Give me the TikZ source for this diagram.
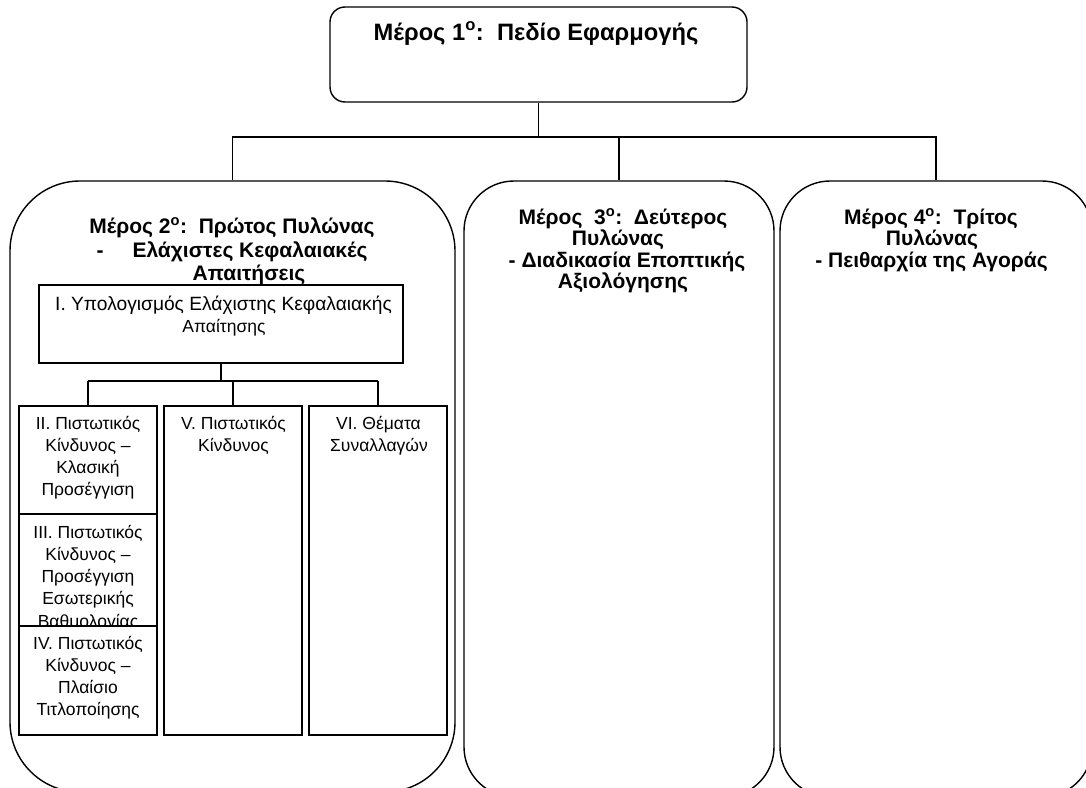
\documentclass[tikz,border=0pt]{standalone}
\usepackage{fontspec}
\setmainfont{Liberation Sans}
\tikzset{
  bigbox/.style={draw, line width=1.4pt, rounded corners=#1, inner sep=0pt, fill=white},
  subbox/.style={draw, line width=1.7pt, inner sep=0pt, fill=white},
  conn/.style={line width=1.5pt},
  thickconn/.style={line width=2.6pt},
  ttl/.style={font=\bfseries\fontsize{21}{23}\selectfont, anchor=base, inner sep=0pt},
  bigttl/.style={font=\bfseries\fontsize{23.7}{26}\selectfont, anchor=base, inner sep=0pt},
  txt/.style={font=\fontsize{17.5}{20}\selectfont, anchor=base, inner sep=0pt},
  bigtxt/.style={font=\fontsize{19.2}{21}\selectfont, anchor=base, inner sep=0pt},
}
\newcommand{\sups}[1]{\textsuperscript{#1}}
\begin{document}
\begin{tikzpicture}[x=1pt,y=-1pt]
\useasboundingbox (0,0) rectangle (1086,787);
\clip (0,0) rectangle (1086,787);
\fill[white] (0,0) rectangle (1086,787);

% main boxes
\node[bigbox=15pt, minimum width=417pt, minimum height=95pt] (p1) at (538.5,54.5) {};
\node[bigbox=70pt, minimum width=445pt, minimum height=611pt] (p2) at (232.5,486.5) {};
\node[bigbox=50pt, minimum width=310pt, minimum height=616pt] (p3) at (619,489) {};
\node[bigbox=50pt, minimum width=312pt, minimum height=616pt] (p4) at (936,489) {};

% top connectors
\coordinate (bus) at (0,137);
\draw[conn] (p1.south) -- (p1.south |- bus);
\draw[conn] (p2.north) |- (p4.north |- bus) -- (p4.north);
\draw[conn] (p3.north) -- (p3.north |- bus);

% texts of main boxes
\node[bigttl] (t1) at (536,40) {Μέρος 1\sups{ο}:\ \ Πεδίο Εφαρμογής};

\node[ttl] (t2a) at (232,233) {Μέρος 2\sups{ο}:\ \ Πρώτος Πυλώνας};
\node[ttl] (t2d) at (100,257) {-};
\node[ttl] (t2b) at (250,257) {Ελάχιστες Κεφαλαιακές};
\node[ttl] (t2c) at (249,280) {Απαιτήσεις};

\node[ttl] (t3a) at (623,224) {Μέρος\ \ 3\sups{ο}:\ \ Δεύτερος};
\node[ttl] (t3b) at (618,245) {Πυλώνας};
\node[ttl] (t3c) at (627,267) {- Διαδικασία Εποπτικής};
\node[ttl] (t3d) at (623,288) {Αξιολόγησης};

\node[ttl] (t4a) at (931,224) {Μέρος 4\sups{ο}:\ \ Τρίτος};
\node[ttl] (t4b) at (932,245) {Πυλώνας};
\node[ttl] (t4c) at (931.5,267) {- Πειθαρχία της Αγοράς};

% box I
\node[subbox, minimum width=364pt, minimum height=78pt] (b1) at (221,324) {};
\node[bigtxt] (tb1a) at (223.5,310) {I. Υπολογισμός Ελάχιστης Κεφαλαιακής};
\node[txt] (tb1b) at (224,332) {Απαίτησης};

% sub boxes
\node[subbox, minimum width=138pt, minimum height=108pt] (b2) at (88,460) {};
\node[subbox, minimum width=138pt, minimum height=112pt] (b3) at (88,570) {};
\node[subbox, minimum width=138pt, minimum height=329pt] (b5) at (233,570.5) {};
\node[subbox, minimum width=138pt, minimum height=329pt] (b6) at (378,570.5) {};

% sub connectors
\coordinate (bus2) at (0,381);
\draw[conn] (b1.south) -- (b1.south |- bus2);
\draw[conn] (b2.north |- bus2) -- (b6.north |- bus2);
\draw[thickconn] (b2.north) -- (b2.north |- bus2);
\draw[thickconn] (b5.north) -- (b5.north |- bus2);
\draw[conn] (b6.north) -- (b6.north |- bus2);

% texts II
\node[txt] (tb2a) at (88,429) {II. Πιστωτικός};
\node[txt] (tb2b) at (88,451) {Κίνδυνος –};
\node[txt] (tb2c) at (88,473) {Κλασική};
\node[txt] (tb2d) at (88,495) {Προσέγγιση};
% texts III
\node[txt] (tb3a) at (88,538) {III. Πιστωτικός};
\node[txt] (tb3b) at (88,560) {Κίνδυνος –};
\node[txt] (tb3c) at (88,582) {Προσέγγιση};
\node[txt] (tb3d) at (88,604) {Εσωτερικής};
\node[txt] (tb3e) at (88,627) {Βαθμολογίας};
% box IV drawn over the overflowing text
\node[subbox, minimum width=138pt, minimum height=109pt, line width=2.2pt] (b4) at (88,680.5) {};
\node[txt] (tb4a) at (88,649) {IV. Πιστωτικός};
\node[txt] (tb4b) at (88,671) {Κίνδυνος –};
\node[txt] (tb4c) at (88,693) {Πλαίσιο};
\node[txt] (tb4d) at (88,715) {Τιτλοποίησης};
% texts V, VI
\node[txt] (tb5a) at (233.5,429) {V. Πιστωτικός};
\node[txt] (tb5b) at (233.5,451) {Κίνδυνος};
\node[txt] (tb6a) at (378.5,429) {VI. Θέματα};
\node[txt] (tb6b) at (379,451) {Συναλλαγών};
\end{tikzpicture}
\end{document}
